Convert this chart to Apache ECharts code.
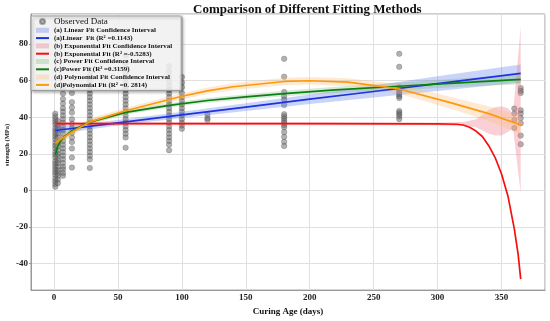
<!DOCTYPE html>
<html><head><meta charset="utf-8">
<script src="https://cdn.jsdelivr.net/npm/echarts@6/dist/echarts.min.js"></script>
<style>html,body{margin:0;padding:0;background:#fff}#c{width:550px;height:321px}</style>
</head><body><div id="c"></div>
<script>
// ---- Observed data (curing age in days, strength in MPa) ----
const obsDays = [1, 3, 7, 14, 28, 56, 90, 100, 120, 180, 270, 360, 365];
const obsStrength = [
  [42, 40.5, 39, 37.5, 36, 34, 32.5, 31, 29.5, 28, 26, 24.5, 23, 21, 19.5, 18, 16, 14.5, 13, 11.5, 10, 8.5, 6.5, 5, 3.5, 2],
  [38, 36, 34.5, 33, 31, 29, 27.5, 25.5, 24, 22, 20, 18.5, 16.5, 15, 13, 11, 9.5, 8, 6, 4],
  [56, 53, 50, 47.5, 45, 43, 41, 39, 37, 35, 33, 31, 29, 27, 25, 23, 21, 19, 17, 15, 13, 11.5, 9.5, 8],
  [53.3, 48.3, 45.3, 42.6, 39, 36.5, 34, 31.5, 29, 26.5, 23, 18, 12.5],
  [66, 63, 60, 57.5, 55, 53, 51, 49, 47, 45, 43, 41, 39, 37, 35, 33, 31, 29, 27, 25, 23, 21, 19, 17, 12.3],
  [74, 70, 67, 64, 61.5, 59, 57, 55, 53, 51, 49, 47, 45, 43, 41, 39, 37, 35, 33, 31, 29, 23.4],
  [68, 65, 62, 59.5, 57, 55, 53, 51, 49, 47, 45, 43, 41, 39, 37, 35, 33, 31, 29, 27, 25, 22],
  [62, 59, 56.5, 53.3, 51, 49, 47, 45, 43, 41, 39, 37, 35.5, 33.7],
  [41.4, 39.5, 38.5],
  [72, 62.2, 53.8, 51.5, 49.7, 46.7, 41.7, 40.5, 39.3, 38, 37, 35.8, 34.6, 31.9, 29.3, 26.6, 24.3],
  [74.7, 67.6, 56.5, 55.5, 54.5, 53.5, 52.5, 51.5, 50.5, 43.5, 42.5, 41.5, 40.5, 39],
  [44.8, 42.1, 38.5, 34.2],
  [56, 54.5, 53.3, 43.9, 42.1, 39.6, 36.7, 30, 25.3]
];

// ---- (a) Linear fit ----
const linX  = [1, 50, 100, 150, 200, 250, 300, 365];
const linY  = [32.8, 37.0, 41.3, 45.6, 49.9, 54.1, 58.4, 64.0];
const linLo = [30.8, 35.5, 39.6, 43.5, 47.3, 50.8, 54.4, 59.1];
const linHi = [34.8, 38.5, 43.0, 47.7, 52.5, 57.4, 62.4, 68.9];

// ---- (b) Exponential fit ----
const expX  = [1, 100, 200, 300, 315, 320, 325, 330, 335, 340, 345, 350, 355, 360, 363, 365];
const expY  = [36.5, 36.5, 36.5, 36.4, 36.2, 35.8, 34.6, 32.5, 29.5, 24.5, 18, 9, -3, -21, -35, -48.5];
const expCiX = [1, 100, 200, 300, 320, 330, 340, 345, 350, 355, 359, 365];
const expLo  = [35.5, 35.7, 35.7, 35.6, 35.3, 34.5, 31, 30, 30, 32, 34, -1.5];
const expHi  = [37.5, 37.3, 37.3, 37.2, 37.5, 39, 44, 45.5, 46, 45, 42, 89.5];

// ---- (c) Power fit ----
const powX  = [1, 3, 7, 14, 28, 56, 90, 120, 150, 180, 220, 270, 320, 365];
const powY  = [19.5, 24.5, 28.8, 32.6, 37.4, 42.7, 46.5, 49.2, 51.2, 53, 55, 57, 59, 60.8];
const powLo = [16.5, 22.0, 26.8, 31.0, 36.2, 41.6, 45.3, 47.9, 49.8, 51.5, 53.3, 55.0, 56.7, 58.1];
const powHi = [22.5, 27.0, 30.8, 34.2, 38.6, 43.8, 47.7, 50.5, 52.6, 54.5, 56.7, 59.0, 61.3, 63.5];

// ---- (d) Polynomial fit ----
const polyX  = [1, 14, 28, 56, 75, 100, 120, 140, 180, 200, 230, 270, 310, 340, 365];
const polyY  = [26, 32, 37.5, 43.6, 47, 51.5, 54.5, 56.7, 59.6, 60, 59.2, 55.5, 48, 42, 35.8];
const polyLo = [23.5, 30, 35.7, 42, 45.4, 49.8, 52.7, 54.8, 57.6, 58, 57, 52.9, 44.7, 38, 30.8];
const polyHi = [28.5, 34, 39.3, 45.2, 48.6, 53.2, 56.3, 58.6, 61.6, 62, 61.4, 58.1, 51.3, 46, 40.8];

const SERIF = "'Liberation Serif', 'DejaVu Serif', serif";
const C = {
  blue: '#1d33e0', blueBand: 'rgba(90,120,235,0.32)',
  red: '#f50f0f', redBand: 'rgba(240,120,140,0.35)',
  green: '#0c7f12', greenBand: 'rgba(110,175,110,0.28)',
  orange: '#fb9a0c', orangeBand: 'rgba(252,190,120,0.32)'
};

const names = {
  obs: 'Observed Data',
  aCI: '(a) Linear Fit Confidence Interval',
  a: '(a)Linear  Fit (R\u00B2 =0.1143)',
  bCI: '(b) Exponential Fit Confidence Interval',
  b: '(b) Exponential Fit (R\u00B2 =-0.5283)',
  cCI: '(c) Power Fit Confidence Interval',
  c: '(c)Power Fit (R\u00B2 =0.3159)',
  dCI: '(d) Polynomial Fit Confidence Interval',
  d: '(d)Polynomial Fit (R\u00B2 =0. 2814)'
};

function pairs(xs, ys) { return xs.map((x, i) => [x, ys[i]]); }

function band(name, xs, lo, hi, color) {
  return {
    type: 'custom', name: name, z: 2, clip: true,
    itemStyle: { color: color },
    data: [[xs[0], lo[0]]],
    encode: { x: 0, y: 1 },
    silent: true,
    renderItem: function (params, api) {
      const pts = [];
      for (let i = 0; i < xs.length; i++) pts.push(api.coord([xs[i], hi[i]]));
      for (let i = xs.length - 1; i >= 0; i--) pts.push(api.coord([xs[i], lo[i]]));
      return { type: 'polygon', shape: { points: pts }, style: { fill: color } };
    }
  };
}
function fitLine(name, xs, ys, color) {
  return {
    type: 'line', name: name, z: 3, data: pairs(xs, ys),
    symbol: 'none', showSymbol: false, smooth: false,
    lineStyle: { color: color, width: 1.7 }, itemStyle: { color: color }
  };
}

const obsData = [];
obsDays.forEach((d, i) => obsStrength[i].forEach(v => obsData.push([d, v])));

const chart = echarts.init(document.getElementById('c'), null, { renderer: 'canvas' });
const legendText = { fontFamily: SERIF, fontWeight: 'bold', fontSize: 7, color: '#111' };
const hideSym = { opacity: 0 };
chart.setOption({
  animation: false,
  backgroundColor: '#fff',
  title: {
    text: 'Comparison of Different Fitting Methods',
    left: 193, top: 3, padding: 0,
    textStyle: { fontFamily: SERIF, fontWeight: 'bold', fontSize: 13, color: '#111' }
  },
  grid: { left: 31, right: 5, top: 14, bottom: 24, show: true, borderColor: '#999', borderWidth: 1, containLabel: false },
  xAxis: {
    type: 'value', min: -18, max: 384, splitNumber: 8,
    name: 'Curing Age (days)', nameLocation: 'middle', nameGap: 11,
    nameTextStyle: { fontFamily: SERIF, fontWeight: 'bold', fontSize: 9, color: '#111' },
    axisLine: { show: true, onZero: false, lineStyle: { color: '#999' } },
    axisTick: { show: false },
    axisLabel: { fontFamily: SERIF, fontWeight: 'bold', fontSize: 9, color: '#222', margin: 3, showMinLabel: false, showMaxLabel: false },
    splitLine: { show: true, lineStyle: { color: '#e0e0e0', width: 1 } }
  },
  yAxis: {
    type: 'value', min: -54.5, max: 96.5, splitNumber: 7,
    axisLine: { show: true, onZero: false, lineStyle: { color: '#999' } },
    axisTick: { show: true, length: 2, lineStyle: { color: '#999' } },
    axisLabel: { fontFamily: SERIF, fontWeight: 'bold', fontSize: 9, color: '#222', margin: 3, showMinLabel: false, showMaxLabel: false },
    splitLine: { show: true, lineStyle: { color: '#e0e0e0', width: 1 } }
  },
  graphic: [{
    type: 'text', x: 7.5, y: 145, rotation: Math.PI / 2,
    style: { text: 'strength (MPa)', fontFamily: SERIF, fontWeight: 'bold', fontSize: 6.5, fill: '#222', align: 'center', verticalAlign: 'middle' }
  }],
  legend: {
    orient: 'vertical', left: 31, top: 16,
    padding: [1, 9, 2, 4], itemGap: 0.8, itemWidth: 13, itemHeight: 5,
    backgroundColor: 'rgba(255,255,255,0.82)', borderColor: '#999', borderWidth: 1, borderRadius: 1,
    shadowColor: 'rgba(0,0,0,0.35)', shadowBlur: 3, shadowOffsetX: 1.5, shadowOffsetY: 1.5,
    textStyle: legendText,
    selectedMode: false,
    data: [
      { name: names.obs, icon: 'circle', textStyle: { fontFamily: SERIF, fontSize: 9, color: '#111', fontWeight: 'normal' } },
      { name: names.aCI, icon: 'rect', itemStyle: { color: C.blueBand } },
      { name: names.a, itemStyle: hideSym },
      { name: names.bCI, icon: 'rect', itemStyle: { color: C.redBand } },
      { name: names.b, itemStyle: hideSym },
      { name: names.cCI, icon: 'rect', itemStyle: { color: C.greenBand } },
      { name: names.c, itemStyle: hideSym },
      { name: names.dCI, icon: 'rect', itemStyle: { color: C.orangeBand } },
      { name: names.d, itemStyle: hideSym }
    ]
  },
  series: [
    {
      type: 'scatter', name: names.obs, z: 1, data: obsData, symbolSize: 5.5,
      itemStyle: { color: 'rgba(100,100,100,0.62)', borderColor: 'rgba(70,70,70,0.55)', borderWidth: 0.6 }
    },
    band(names.aCI, linX, linLo, linHi, C.blueBand),
    fitLine(names.a, linX, linY, C.blue),
    band(names.bCI, expCiX, expLo, expHi, C.redBand),
    fitLine(names.b, expX, expY, C.red),
    band(names.cCI, powX, powLo, powHi, C.greenBand),
    fitLine(names.c, powX, powY, C.green),
    band(names.dCI, polyX, polyLo, polyHi, C.orangeBand),
    fitLine(names.d, polyX, polyY, C.orange)
  ]
});
</script>
</body></html>
